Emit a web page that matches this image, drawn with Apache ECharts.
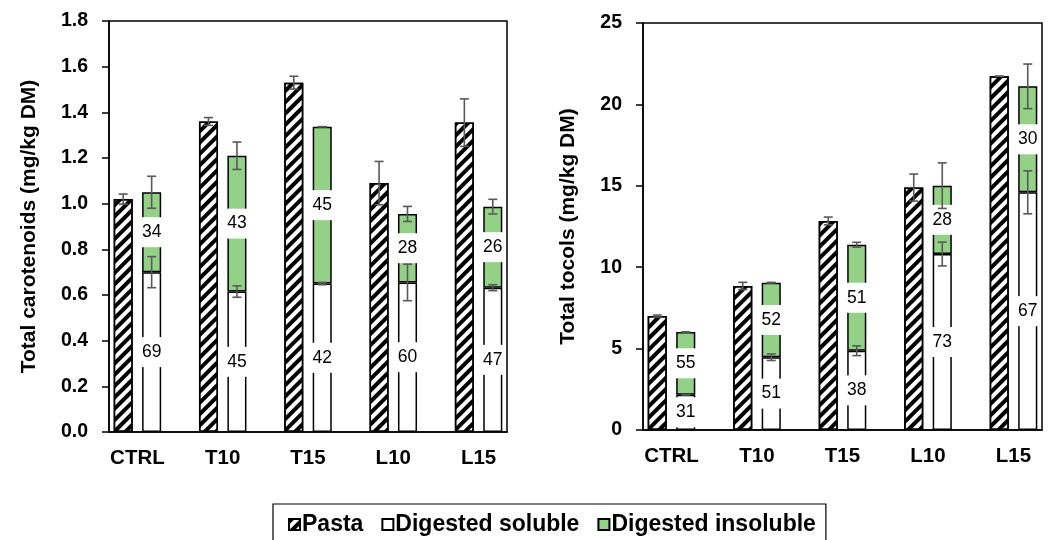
<!DOCTYPE html>
<html>
<head>
<meta charset="utf-8">
<script src="https://cdn.jsdelivr.net/npm/echarts@6/dist/echarts.min.js"></script>
<style>
html,body{margin:0;padding:0;background:#fff;}
#chart{width:1051px;height:540px;}
</style>
</head>
<body>
<div id="chart"></div>
<script>
// ---------- data ----------
const groups = ['CTRL', 'T10', 'T15', 'L10', 'L15'];

// Carotenoids (mg/kg DM)
const caroPasta = [1.02, 1.36, 1.53, 1.09, 1.355];
const caroPastaErr = [0.022, 0.017, 0.028, 0.095, 0.104];
const caroSoluble = [0.70, 0.615, 0.65, 0.655, 0.632];
const caroSolubleErr = [0.068, 0.025, 0.005, 0.08, 0.013];
const caroInsoluble = [0.35, 0.595, 0.687, 0.30, 0.355];
const caroTotalErr = [0.07, 0.06, 0.0, 0.033, 0.032];
const caroSolublePct = [69, 45, 42, 60, 47];
const caroInsolublePct = [34, 43, 45, 28, 26];

// Tocols (mg/kg DM)
const tocoPasta = [7.0, 8.85, 12.84, 14.89, 21.73];
const tocoPastaErr = [0.06, 0.22, 0.24, 0.83, 0.0];
const tocoSoluble = [2.17, 4.47, 4.87, 10.81, 14.6];
const tocoSolubleErr = [0.0, 0.2, 0.3, 0.73, 1.32];
const tocoInsoluble = [3.85, 4.58, 6.51, 4.20, 6.51];
const tocoTotalErr = [0.0, 0.02, 0.15, 1.4, 1.37];
const tocoSolublePct = [31, 51, 38, 73, 67];
const tocoInsolublePct = [55, 52, 51, 28, 30];

const caroTicks = ['0.0','0.2','0.4','0.6','0.8','1.0','1.2','1.4','1.6','1.8'];
const tocoTicks = ['0','5','10','15','20','25'];

// ---------- helpers ----------
const FONT = "'Liberation Sans', Arial, sans-serif";
const nSlots = groups.length * 3 - 1;
const slotNames = [];
for (let i = 0; i < nSlots; i++) slotNames.push('s' + i);

function slotArray(values, offset) {
  const arr = new Array(nSlots).fill('-');
  values.forEach((v, i) => { arr[i * 3 + offset] = v; });
  return arr;
}
function pctArray(values, offset) {
  const arr = new Array(nSlots).fill('');
  values.forEach((v, i) => { arr[i * 3 + offset] = v; });
  return arr;
}
function errData(pasta, pErr, sol, sErr, insol, tErr) {
  const out = [];
  groups.forEach((g, i) => {
    out.push([i * 3, pasta[i], pErr[i]]);
    out.push([i * 3 + 1, sol[i], sErr[i]]);
    out.push([i * 3 + 1, sol[i] + insol[i], tErr[i]]);
  });
  return out;
}
function renderErr(params, api) {
  const x = api.value(0), y = api.value(1), e = api.value(2);
  const t = api.coord([x, y + e]);
  const b = api.coord([x, y - e]);
  const cap = 4.5;
  const st = { stroke: '#595959', lineWidth: 1.6 };
  return {
    type: 'group',
    children: [
      { type: 'line', shape: { x1: t[0], y1: t[1], x2: b[0], y2: b[1] }, style: st },
      { type: 'line', shape: { x1: t[0] - cap, y1: t[1], x2: t[0] + cap, y2: t[1] }, style: st },
      { type: 'line', shape: { x1: b[0] - cap, y1: b[1], x2: b[0] + cap, y2: b[1] }, style: st }
    ]
  };
}

const GREEN = '#93d286';
const hatch = {
  symbol: 'rect', symbolSize: 1,
  dashArrayX: [1, 0], dashArrayY: [3.8, 3.2],
  rotation: -Math.PI / 4, color: '#000'
};
const pastaStyle = { color: '#fff', borderColor: '#000', borderWidth: 1.5, decal: hatch };
const solStyle = { color: '#fff', borderColor: '#000', borderWidth: 1.5 };
const insolStyle = { color: GREEN, borderColor: '#000', borderWidth: 1.5 };

function pctLabel(pcts) {
  return {
    show: true, position: 'inside',
    formatter: p => pcts[p.dataIndex],
    color: '#000', fontSize: 17.5, fontFamily: FONT,
    backgroundColor: '#fff', padding: [6, 3, 6, 3]
  };
}

function makeSeries(k, pasta, pErr, sol, sErr, insol, tErr, solPct, insolPct) {
  return [
    { name: 'Pasta', type: 'bar', xAxisIndex: k * 2, yAxisIndex: k,
      data: slotArray(pasta, 0), barWidth: '67%', barGap: '-100%',
      itemStyle: pastaStyle },
    { name: 'Digested soluble', type: 'bar', xAxisIndex: k * 2, yAxisIndex: k,
      stack: 'dig' + k, data: slotArray(sol, 1), barWidth: '67%', barGap: '-100%',
      itemStyle: solStyle, label: pctLabel(pctArray(solPct, 1)) },
    { name: 'Digested insoluble', type: 'bar', xAxisIndex: k * 2, yAxisIndex: k,
      stack: 'dig' + k, data: slotArray(insol, 1), barWidth: '67%', barGap: '-100%',
      itemStyle: insolStyle, label: pctLabel(pctArray(insolPct, 1)) },
    { type: 'custom', xAxisIndex: k * 2, yAxisIndex: k, z: 5,
      renderItem: renderErr, encode: { x: 0, y: 1 },
      data: errData(pasta, pErr, sol, sErr, insol, tErr) }
  ];
}

function catAxis(gi) {
  return {
    type: 'category', gridIndex: gi, data: slotNames, position: 'bottom',
    boundaryGap: true,
    axisLine: { lineStyle: { color: '#000', width: 1.5 } },
    axisTick: { interval: 0, length: 7, lineStyle: { color: '#000', width: 1.5 } },
    axisLabel: { show: false }
  };
}
function labelAxis(gi) {
  return {
    type: 'value', gridIndex: gi, min: 0, max: nSlots, interval: 1, position: 'bottom',
    axisLine: { show: false }, axisTick: { show: false }, splitLine: { show: false },
    axisLabel: {
      margin: 16, color: '#000', fontSize: 20.5, fontWeight: 'bold', fontFamily: FONT,
      formatter: v => (v % 3 === 1 ? groups[(v - 1) / 3] : '')
    }
  };
}
function yAxis(gi, max, interval, ticks, name, gap) {
  return {
    type: 'value', gridIndex: gi, min: 0, max: max, interval: interval,
    name: name, nameLocation: 'middle', nameGap: gap,
    nameTextStyle: { color: '#000', fontSize: 21, fontWeight: 'bold', fontFamily: FONT },
    axisLine: { show: true, lineStyle: { color: '#000', width: 1.5 } },
    axisTick: { show: true, length: 7, lineStyle: { color: '#000', width: 1.5 } },
    splitLine: { show: false },
    axisLabel: {
      margin: 21, color: '#000', fontSize: 19.5, fontWeight: 'bold', fontFamily: FONT,
      formatter: v => ticks[Math.round(v / interval)]
    }
  };
}

const chart = echarts.init(document.getElementById('chart'), null, { renderer: 'canvas' });
chart.setOption({
  animation: false,
  backgroundColor: '#fff',
  textStyle: { fontFamily: FONT },
  legend: {
    data: ['Pasta', 'Digested soluble', 'Digested insoluble'],
    left: 273, top: 504,
    borderColor: '#000', borderWidth: 1.2, padding: [9, 10, 9, 15],
    itemWidth: 11, itemHeight: 11, itemGap: 18, icon: 'rect',
    textStyle: { color: '#000', fontSize: 23, fontWeight: 'bold', fontFamily: FONT, padding: [0, 0, 0, -3] }
  },
  grid: [
    { left: 109, right: 544, top: 21, bottom: 108, show: true, borderColor: '#000', borderWidth: 1.5 },
    { left: 643, right: 9, top: 23, bottom: 110, show: true, borderColor: '#000', borderWidth: 1.5 }
  ],
  xAxis: [catAxis(0), labelAxis(0), catAxis(1), labelAxis(1)],
  yAxis: [
    yAxis(0, 1.8, 0.2, caroTicks, 'Total carotenoids (mg/kg DM)', 69),
    yAxis(1, 25, 5, tocoTicks, 'Total tocols (mg/kg DM)', 64)
  ],
  series: [].concat(
    makeSeries(0, caroPasta, caroPastaErr, caroSoluble, caroSolubleErr, caroInsoluble, caroTotalErr, caroSolublePct, caroInsolublePct),
    makeSeries(1, tocoPasta, tocoPastaErr, tocoSoluble, tocoSolubleErr, tocoInsoluble, tocoTotalErr, tocoSolublePct, tocoInsolublePct)
  )
});
</script>
</body>
</html>
